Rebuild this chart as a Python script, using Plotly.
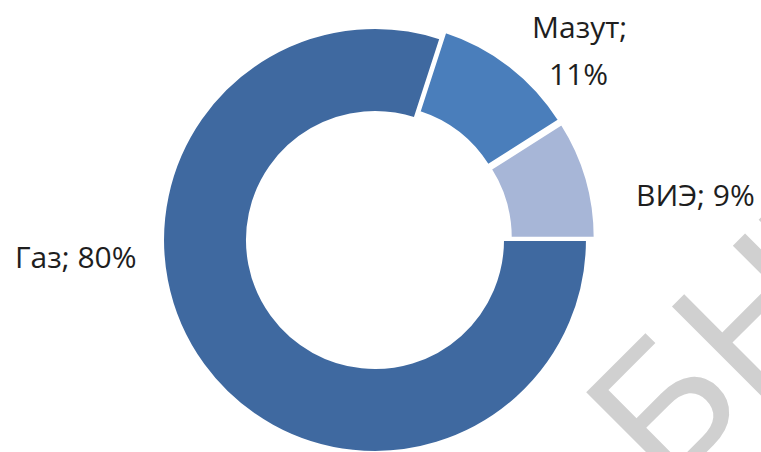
import plotly.graph_objects as go

labels = ["Газ", "Мазут", "ВИЭ"]
values = [80, 11, 9]
colors = ["#3F69A0", "#4A7EBB", "#A7B6D7"]
pulls = [0, 0.038, 0.038]
watermark = "БНТУ"

W, H = 761, 462

def px(x):
    return x / W

def py(y):
    return (H - y) / H

fig = go.Figure(go.Pie(
    labels=labels,
    values=values,
    hole=0.604,
    sort=False,
    direction="clockwise",
    rotation=90,
    pull=pulls,
    marker=dict(colors=colors, line=dict(color="white", width=2)),
    textinfo="none",
    hoverinfo="label+percent",
    showlegend=False,
    domain=dict(x=[px(155), px(595)], y=[py(460), py(20)]),
))

font = dict(family="Open Sans", size=30, color="#1E1E1E")
ann = []
ann.append(dict(text=f"{labels[0]}; {values[0]}%", x=px(76), y=py(256),
                xref="paper", yref="paper", xanchor="center", yanchor="middle",
                showarrow=False, font=font))
ann.append(dict(text=f"{labels[1]};", x=px(579), y=py(27),
                xref="paper", yref="paper", xanchor="center", yanchor="middle",
                showarrow=False, font=font))
ann.append(dict(text=f"{values[1]}%", x=px(578), y=py(73),
                xref="paper", yref="paper", xanchor="center", yanchor="middle",
                showarrow=False, font=font))
ann.append(dict(text=f"{labels[2]}; {values[2]}%", x=px(695), y=py(194),
                xref="paper", yref="paper", xanchor="center", yanchor="middle",
                showarrow=False, font=font))
ann.append(dict(text=watermark, x=px(792), y=py(276), textangle=-45,
                xref="paper", yref="paper", xanchor="center", yanchor="middle",
                showarrow=False,
                font=dict(family="Liberation Sans", size=185, color="#D0D0D0")))

fig.update_layout(
    width=W, height=H,
    margin=dict(l=0, r=0, t=0, b=0),
    paper_bgcolor="white", plot_bgcolor="white",
    annotations=ann,
)

fig.write_html("out.html", config={"displayModeBar": False},
               post_script="document.body.style.margin='0';document.body.style.overflow='hidden';document.documentElement.style.overflow='hidden';")
